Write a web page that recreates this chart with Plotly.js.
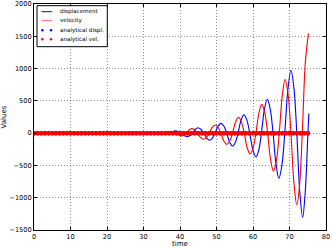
<!DOCTYPE html>
<html>
<head>
<meta charset="utf-8">
<script src="https://cdn.plot.ly/plotly-3.0.1.min.js"></script>
<style>html,body{margin:0;padding:0;background:#fff}#chart{width:332px;height:248px}</style>
</head>
<body>
<div id="chart"></div>
<script>
// Numerical displacement (blue) (extrema, zero crossings and in-between points)
const dispTime = [0, 30, 32.5, 34.1, 35.7, 37.2, 38.0, 38.8, 39.55, 40.3, 41.1, 41.9, 42.65, 43.4, 44.15, 44.9, 45.7, 46.5, 47.3, 48.1, 48.85, 49.6, 50.4, 51.2, 52.0, 52.8, 53.6, 54.4, 55.15, 55.9, 56.7, 57.5, 58.3, 59.1, 59.95, 60.8, 61.55, 62.3, 63.1, 63.9, 64.7, 65.5, 66.3, 67.1, 67.9, 68.7, 69.55, 70.4, 71.2, 72.0, 72.8, 73.6, 74.3, 75.05, 75.3];
const dispValues = [0, 0, 10, 0, -15, 0, 24, 35, 25, 0, -38, -55, -40, 0, 58, 84, 60, 0, -76, -110, -80, 0, 105, 152, 110, 0, -138, -200, -145, 0, 196, 285, 205, 0, -255, -370, -268, 0, 360, 525, 378, 0, -480, -700, -505, 0, 670, 975, 705, 0, -895, -1305, -920, 0, 305];

// Numerical velocity (red)
const velTime = [0, 31, 34.1, 35.7, 36.5, 37.3, 38.1, 38.85, 39.6, 40.4, 41.1, 41.8, 42.5, 43.2, 44.0, 44.8, 45.6, 46.4, 47.2, 48.0, 48.8, 49.6, 50.4, 51.2, 52.0, 52.8, 53.6, 54.4, 55.2, 56.0, 56.8, 57.6, 58.4, 59.2, 60.0, 60.8, 61.6, 62.4, 63.2, 64.0, 64.8, 65.6, 66.4, 67.2, 68.0, 68.8, 69.6, 70.4, 71.2, 72.0, 72.75, 73.5, 74.35, 75.2];
const velValues = [0, 0, -12, 0, 21, 30, 22, 0, -29, -42, -31, 0, 48, 70, 51, 0, -65, -95, -69, 0, 86, 125, 91, 0, -120, -174, -126, 0, 168, 245, 178, 0, -222, -324, -235, 0, 305, 446, 325, 0, -405, -590, -430, 0, 570, 832, 605, 0, -760, -1113, -810, 0, 1100, 1545];

// Analytical solutions (both stay at zero)
const analyticalTime = [0,1,2,3,4,5,6,7,8,9,10,11,12,13,14,15,16,17,18,19,20,21,22,23,24,25,26,27,28,29,30,31,32,33,34,35,36,37,38,39,40,41,42,43,44,45,46,47,48,49,50,51,52,53,54,55,56,57,58,59,60,61,62,63,64,65,66,67,68,69,70,71,72,73,74,75];
const analyticalDisp = [0,0,0,0,0,0,0,0,0,0,0,0,0,0,0,0,0,0,0,0,0,0,0,0,0,0,0,0,0,0,0,0,0,0,0,0,0,0,0,0,0,0,0,0,0,0,0,0,0,0,0,0,0,0,0,0,0,0,0,0,0,0,0,0,0,0,0,0,0,0,0,0,0,0,0,0];
const analyticalVel = [0,0,0,0,0,0,0,0,0,0,0,0,0,0,0,0,0,0,0,0,0,0,0,0,0,0,0,0,0,0,0,0,0,0,0,0,0,0,0,0,0,0,0,0,0,0,0,0,0,0,0,0,0,0,0,0,0,0,0,0,0,0,0,0,0,0,0,0,0,0,0,0,0,0,0,0];

const seriesNames = ['displacement', 'velocity', 'analytical displ.', 'analytical vel.'];
const xTicks = [0, 10, 20, 30, 40, 50, 60, 70, 80];
const yTicks = [-1500, -1000, -500, 0, 500, 1000, 1500, 2000];

const traces = [
  {x: dispTime, y: dispValues, mode: 'lines', name: seriesNames[0],
   line: {color: '#0000ff', width: 1.1, shape: 'spline', smoothing: 1}},
  {x: velTime, y: velValues, mode: 'lines', name: seriesNames[1],
   line: {color: '#ff0000', width: 1.1, shape: 'spline', smoothing: 1}},
  {x: analyticalTime, y: analyticalDisp, mode: 'markers', name: seriesNames[2],
   marker: {color: '#0000ff', size: 4.5, line: {width: 0}}},
  {x: analyticalTime, y: analyticalVel, mode: 'markers', name: seriesNames[3],
   marker: {color: '#ff0000', size: 4.5, line: {width: 0}}}
];

// custom legend (matplotlib style), pixel layout converted to paper coords
const L = 34, T = 4, W = 292, H = 226;
const px = v => (v - L) / W;
const py = v => (T + H - v) / H;
const shapes = [
  {type: 'rect', xref: 'paper', yref: 'paper', x0: px(37), x1: px(107.3), y0: py(46.7), y1: py(5.7),
   line: {color: '#000', width: 1}, fillcolor: '#fff', layer: 'above'}
];
const rows = [11.7, 20.7, 30.3, 39.3];
const annotations = [];
const legendColors = ['#0000ff', '#ff6666', '#0000ff', '#ff0000'];
rows.forEach((r, i) => {
  if (i < 2) {
    shapes.push({type: 'line', xref: 'paper', yref: 'paper', x0: px(41.5), x1: px(52), y0: py(r), y1: py(r),
      line: {color: legendColors[i], width: 1}, layer: 'above'});
  } else {
    [42.3, 51].forEach(cx => shapes.push({type: 'circle', xref: 'paper', yref: 'paper',
      xsizemode: 'pixel', ysizemode: 'pixel', xanchor: px(cx), yanchor: py(r),
      x0: -1.2, x1: 1.2, y0: -1.2, y1: 1.2,
      fillcolor: legendColors[i], line: {width: 0}, layer: 'above'}));
  }
  annotations.push({xref: 'paper', yref: 'paper', x: px(58), y: py(r), xanchor: 'left', yanchor: 'middle',
    text: seriesNames[i], showarrow: false, font: {family: 'DejaVu Sans', size: 5.6, color: '#000'}});
});

const axisCommon = {
  showline: true, mirror: 'ticks', linecolor: '#000', linewidth: 1,
  ticks: 'inside', ticklen: 3, tickcolor: '#000',
  showgrid: true, gridcolor: 'rgba(0,0,0,0.45)', griddash: '1px,2px', gridwidth: 1,
  zeroline: false, tickfont: {family: 'DejaVu Sans', size: 6.6, color: '#000'}
};

const layout = {
  width: 332, height: 248,
  margin: {l: L, r: 332 - L - W, t: T, b: 248 - T - H},
  paper_bgcolor: '#fff', plot_bgcolor: '#fff',
  showlegend: false,
  xaxis: Object.assign({}, axisCommon, {range: [0, 80], tickvals: xTicks,
    title: {text: 'time', font: {family: 'DejaVu Sans', size: 7, color: '#000'}, standoff: 1}}),
  yaxis: Object.assign({}, axisCommon, {range: [-1500, 2000], tickvals: yTicks,
    title: {text: 'Values', font: {family: 'DejaVu Sans', size: 7, color: '#000'}, standoff: 2}}),
  shapes: shapes,
  annotations: annotations
};

Plotly.newPlot('chart', traces, layout, {staticPlot: true, displayModeBar: false});
</script>
</body>
</html>
